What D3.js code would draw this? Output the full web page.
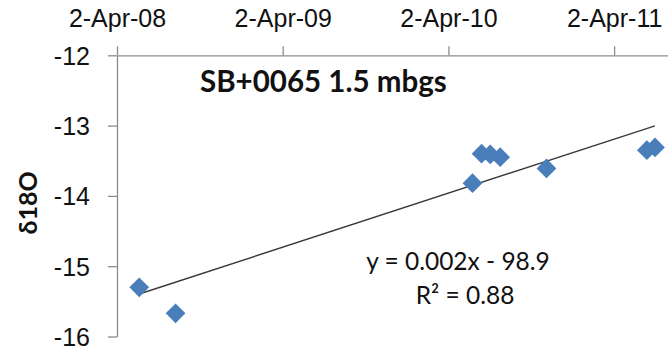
<!DOCTYPE html>
<html>
<head>
<meta charset="utf-8">
<script src="https://cdn.jsdelivr.net/npm/d3@7"></script>
<style>
  body { margin: 0; background: #fff; }
  svg { display: block; font-family: Lato, "Open Sans", sans-serif; }
  .axis path, .axis line { stroke: #8c8c8c; stroke-width: 1.3; }
  .axis text { fill: #111; font-size: 25px; }
</style>
</head>
<body>
<svg id="chart" width="668" height="352"></svg>
<script>
// sample dates and d18O values
var dates = ["2008-05-21", "2008-08-09", "2010-05-25", "2010-06-14", "2010-07-03",
             "2010-07-25", "2010-11-04", "2011-06-13", "2011-07-01"];
var d18O = [-15.30, -15.67, -13.82, -13.40, -13.41, -13.45, -13.61, -13.35, -13.31];
var xTicks = ["2008-04-02", "2009-04-02", "2010-04-02", "2011-04-02"];
var yTicks = [-12, -13, -14, -15, -16];
var title = "SB+0065 1.5 mbgs";
var eqLine = "y = 0.002x - 98.9";
var r2Line = "R² = 0.88";

var parse = d3.utcParse("%Y-%m-%d");
var data = dates.map(function(d, i) { return {date: parse(d), v: d18O[i]}; });

// plot area edges
var pLeft = 117, pTop = 55.3, pBottom = 336.5;

var x = d3.scaleUtc()
  .domain([parse("2008-04-02"), parse("2012-04-01")])
  .range([pLeft, pLeft + 1460 * 0.454]);

var y = d3.scaleLinear()
  .domain([-16, -12])
  .range([pBottom, pTop]);

var svg = d3.select("#chart");

// x axis on top
var gx = svg.append("g")
  .attr("class", "axis")
  .attr("transform", "translate(0," + pTop + ")")
  .call(d3.axisTop(x)
    .tickValues(xTicks.map(parse))
    .tickFormat(d3.utcFormat("%-d-%b-%y"))
    .tickSize(9)
    .tickSizeOuter(0));
gx.selectAll("text").attr("y", -28.5).attr("dy", 0);

// y axis
var gy = svg.append("g")
  .attr("class", "axis")
  .attr("transform", "translate(" + pLeft + ",0)")
  .call(d3.axisLeft(y)
    .tickValues(yTicks)
    .tickFormat(function(d) { return String(d); })
    .tickSize(9)
    .tickSizeOuter(0));
gy.selectAll("text").attr("x", -27).attr("dy", "0.36em");

// y label
svg.append("text")
  .attr("transform", "translate(37,203) rotate(-90)")
  .attr("text-anchor", "middle")
  .attr("font-size", 25)
  .attr("font-weight", "bold")
  .attr("fill", "#111")
  .text("δ18O");

// linear trend (least squares on days)
var day = function(d) { return d.date.getTime() / 86400000; };
var mx = d3.mean(data, day), my = d3.mean(data, function(d) { return d.v; });
var sxy = d3.sum(data, function(d) { return (day(d) - mx) * (d.v - my); });
var sxx = d3.sum(data, function(d) { return (day(d) - mx) * (day(d) - mx); });
var slope = sxy / sxx, icpt = my - slope * mx;
var ext = d3.extent(data, function(d) { return d.date; });

svg.append("line")
  .attr("x1", x(ext[0])).attr("y1", y(icpt + slope * ext[0].getTime() / 86400000))
  .attr("x2", x(ext[1])).attr("y2", y(icpt + slope * ext[1].getTime() / 86400000))
  .attr("stroke", "#3a3a3a")
  .attr("stroke-width", 1.4);

// diamonds
svg.append("g")
  .selectAll("path")
  .data(data)
  .enter()
  .append("path")
  .attr("d", d3.symbol().type(d3.symbolSquare).size(195))
  .attr("transform", function(d) { return "translate(" + x(d.date) + "," + y(d.v) + ") rotate(45)"; })
  .attr("fill", "#4a7ebb");

// title
svg.append("text")
  .attr("x", 200)
  .attr("y", 92)
  .attr("font-size", 29.5)
  .attr("font-weight", "bold")
  .attr("fill", "#111")
  .text(title);

// equation
svg.append("text")
  .attr("x", 458)
  .attr("y", 269.5)
  .attr("text-anchor", "middle")
  .attr("font-size", 24.5)
  .attr("fill", "#111")
  .text(eqLine);

svg.append("text")
  .attr("x", 465)
  .attr("y", 303.5)
  .attr("text-anchor", "middle")
  .attr("font-size", 24.5)
  .attr("fill", "#111")
  .text(r2Line);
</script>
</body>
</html>
